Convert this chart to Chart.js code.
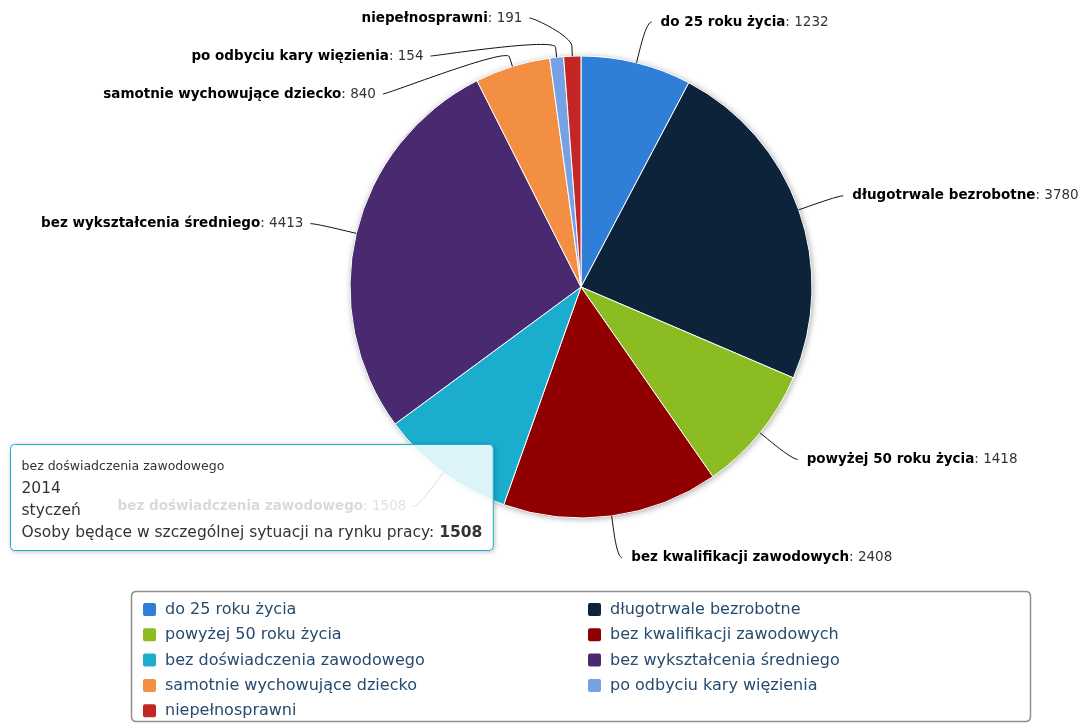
<!DOCTYPE html>
<html>
<head>
<meta charset="utf-8">
<script src="https://cdn.jsdelivr.net/npm/chart.js@4"></script>
<style>
body { margin: 0; background: #fff; }
</style>
</head>
<body>
<canvas id="mycanvas" width="1084" height="727"></canvas>
<script>
var categories = ['do 25 roku życia', 'długotrwale bezrobotne', 'powyżej 50 roku życia', 'bez kwalifikacji zawodowych',
	'bez doświadczenia zawodowego', 'bez wykształcenia średniego', 'samotnie wychowujące dziecko',
	'po odbyciu kary więzienia', 'niepełnosprawni'];
var values = [1232, 3780, 1418, 2408, 1508, 4413, 840, 154, 191];
var colors = ['#2f7ed8', '#0d233a', '#8bbc21', '#910000', '#1aadce', '#492970', '#f28f43', '#77a1e5', '#c42525'];
var seriesName = 'Osoby będące w szczególnej sytuacji na rynku pracy';
var tooltipYear = '2014';
var tooltipMonth = 'styczeń';
var hoverIndex = 4;

var FONT = '"DejaVu Sans", sans-serif';

function roundRect(ctx, x, y, w, h, r) {
	ctx.beginPath();
	ctx.moveTo(x + r, y);
	ctx.lineTo(x + w - r, y);
	ctx.quadraticCurveTo(x + w, y, x + w, y + r);
	ctx.lineTo(x + w, y + h - r);
	ctx.quadraticCurveTo(x + w, y + h, x + w - r, y + h);
	ctx.lineTo(x + r, y + h);
	ctx.quadraticCurveTo(x, y + h, x, y + h - r);
	ctx.lineTo(x, y + r);
	ctx.quadraticCurveTo(x, y, x + r, y);
	ctx.closePath();
}

// white background + soft shadow under the pie
var pieShadow = {
	id: 'pieShadow',
	beforeDraw: function(chart) {
		var ctx = chart.ctx;
		ctx.save();
		ctx.fillStyle = '#fff';
		ctx.fillRect(0, 0, chart.width, chart.height);
		ctx.restore();
	},
	beforeDatasetsDraw: function(chart) {
		var arc = chart.getDatasetMeta(0).data[0];
		var ctx = chart.ctx;
		ctx.save();
		ctx.shadowColor = 'rgba(0,0,0,0.35)';
		ctx.shadowBlur = 6;
		ctx.shadowOffsetX = 1;
		ctx.shadowOffsetY = 1;
		ctx.fillStyle = '#fff';
		ctx.beginPath();
		ctx.arc(arc.x, arc.y, arc.outerRadius, 0, Math.PI * 2);
		ctx.fill();
		ctx.restore();
	}
};

// data labels with connectors, highcharts style
var pieLabels = {
	id: 'pieLabels',
	afterDatasetsDraw: function(chart) {
		var ctx = chart.ctx;
		var arcs = chart.getDatasetMeta(0).data;
		var cx = arcs[0].x, cy = arcs[0].y, R = arcs[0].outerRadius;
		var r = R + 42, slot = 38;
		var items = [];
		arcs.forEach(function(arc, i) {
			var mid = (arc.startAngle + arc.endAngle) / 2;
			var c = Math.cos(mid), s = Math.sin(mid);
			items.push({
				i: i, left: c < 0, y: cy + s * r,
				ex: cx + c * R, ey: cy + s * R,
				bx: cx + c * (R + 10), by: cy + s * (R + 10)
			});
		});
		[true, false].forEach(function(left) {
			var side = items.filter(function(it) { return it.left === left; });
			side.sort(function(a, b) { return a.y - b.y; });
			var minY = 18;
			side.forEach(function(it) {
				if (it.y < minY) it.y = minY;
				minY = it.y + slot;
			});
		});
		ctx.save();
		items.forEach(function(it) {
			var dy = it.y - cy;
			var dx = Math.abs(dy) < r ? Math.sqrt(r * r - dy * dy) : 0;
			var dir = it.left ? -1 : 1;
			var x = cx + dir * dx;
			ctx.strokeStyle = '#111';
			ctx.lineWidth = 1;
			ctx.beginPath();
			ctx.moveTo(x + dir * 5, it.y);
			ctx.bezierCurveTo(x, it.y, 2 * it.bx - it.ex, 2 * it.by - it.ey, it.bx, it.by);
			ctx.lineTo(it.ex, it.ey);
			ctx.stroke();

			var name = categories[it.i], val = ': ' + values[it.i];
			ctx.font = 'bold 13.5px ' + FONT;
			var wn = ctx.measureText(name).width;
			ctx.font = '13.5px ' + FONT;
			var wv = ctx.measureText(val).width;
			var tx = it.left ? x - 12 - wn - wv : x + 14;
			ctx.textBaseline = 'middle';
			ctx.textAlign = 'left';
			ctx.fillStyle = '#000';
			ctx.font = 'bold 13.5px ' + FONT;
			ctx.fillText(name, tx, it.y);
			ctx.fillStyle = '#333';
			ctx.font = '13.5px ' + FONT;
			ctx.fillText(val, tx + wn, it.y);
		});
		ctx.restore();
	}
};

// legend box at the bottom, two columns
var boxLegend = {
	id: 'boxLegend',
	afterDraw: function(chart) {
		var ctx = chart.ctx;
		ctx.save();
		ctx.strokeStyle = '#909090';
		ctx.lineWidth = 1.5;
		roundRect(ctx, 131.5, 591.5, 899, 130, 5);
		ctx.stroke();
		ctx.font = '16px ' + FONT;
		ctx.textBaseline = 'middle';
		for (var i = 0; i < categories.length; i++) {
			var col = i % 2, row = Math.floor(i / 2);
			var x = 143 + col * 445, y = 603 + row * 25.3;
			ctx.fillStyle = colors[i];
			roundRect(ctx, x, y, 13, 13, 2);
			ctx.fill();
			ctx.fillStyle = '#274b6d';
			ctx.fillText(categories[i], x + 22, y + 7);
		}
		ctx.restore();
	}
};

// static tooltip for the hovered slice
var staticTooltip = {
	id: 'staticTooltip',
	afterDraw: function(chart) {
		var ctx = chart.ctx;
		var bx = 10.5, by = 444.5, pad = 11;
		ctx.save();
		ctx.font = '15.5px ' + FONT;
		var last = seriesName + ': ';
		var wl = ctx.measureText(last).width;
		ctx.font = 'bold 15.5px ' + FONT;
		var wb = ctx.measureText(String(values[hoverIndex])).width;
		var w = wl + wb + pad * 2, h = 106;

		// shadow only outside the box so the translucent fill stays white
		ctx.save();
		ctx.beginPath();
		ctx.rect(0, 0, chart.width, chart.height);
		ctx.rect(bx, by, w, h);
		ctx.clip('evenodd');
		ctx.shadowColor = 'rgba(0,0,0,0.3)';
		ctx.shadowBlur = 5;
		ctx.shadowOffsetX = 1;
		ctx.shadowOffsetY = 1;
		ctx.fillStyle = '#fff';
		roundRect(ctx, bx, by, w, h, 4);
		ctx.fill();
		ctx.restore();

		ctx.fillStyle = 'rgba(255,255,255,0.85)';
		roundRect(ctx, bx, by, w, h, 4);
		ctx.fill();
		ctx.strokeStyle = colors[hoverIndex];
		ctx.lineWidth = 1;
		ctx.stroke();
		ctx.textBaseline = 'middle';
		ctx.fillStyle = '#333';
		ctx.font = '12.5px ' + FONT;
		ctx.fillText(categories[hoverIndex], bx + pad, by + 22);
		ctx.font = '15.5px ' + FONT;
		ctx.fillText(tooltipYear, bx + pad, by + 44);
		ctx.fillText(tooltipMonth, bx + pad, by + 66);
		ctx.fillText(last, bx + pad, by + 88);
		ctx.font = 'bold 15.5px ' + FONT;
		ctx.fillText(String(values[hoverIndex]), bx + pad + wl, by + 88);
		ctx.restore();
	}
};

var ctx = document.getElementById('mycanvas');
var pieChart = new Chart(ctx, {
	type: 'pie',
	data: {
		labels: categories,
		datasets: [{
			label: seriesName,
			data: values,
			backgroundColor: colors,
			borderColor: '#ffffff',
			borderWidth: 1
		}]
	},
	options: {
		responsive: false,
		animation: false,
		events: [],
		layout: {
			padding: { left: 349.5, top: 55.5, right: 271.5, bottom: 208.5 }
		},
		plugins: {
			legend: { display: false },
			tooltip: { enabled: false }
		}
	},
	plugins: [pieShadow, pieLabels, boxLegend, staticTooltip]
});
</script>
</body>
</html>
